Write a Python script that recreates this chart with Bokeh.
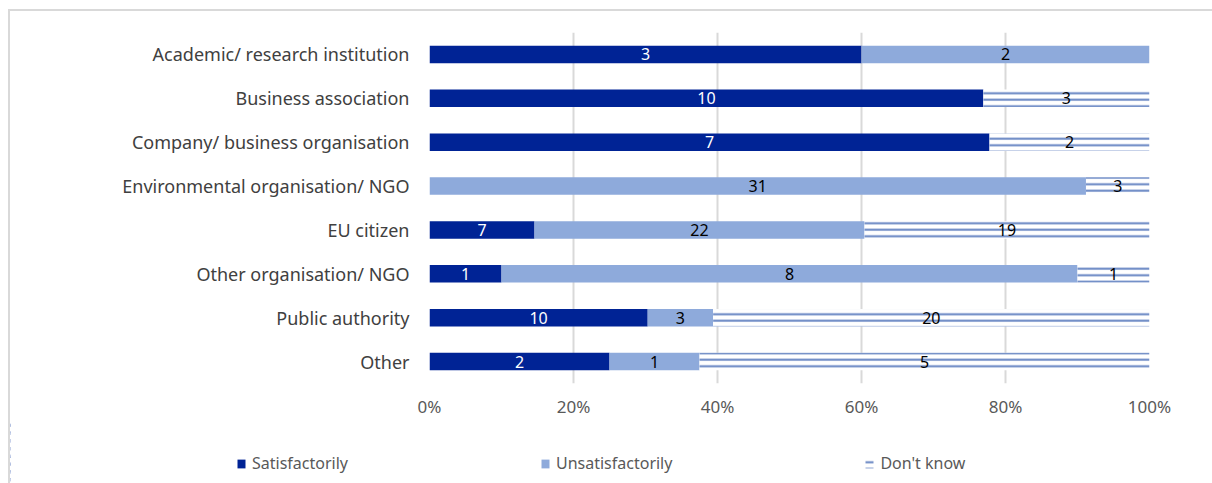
from bokeh.plotting import figure
from bokeh.layouts import column
from bokeh.models import ColumnDataSource, Legend, LegendItem, NumeralTickFormatter, FixedTicker
from bokeh.core.properties import value
from bokeh.embed import file_html
from bokeh.resources import INLINE

categories = ["Academic/ research institution", "Business association", "Company/ business organisation",
              "Environmental organisation/ NGO", "EU citizen", "Other organisation/ NGO",
              "Public authority", "Other"]
satisfactorily = [3, 10, 7, 0, 7, 1, 10, 2]
unsatisfactorily = [2, 0, 0, 31, 22, 8, 3, 1]
dont_know = [0, 3, 2, 3, 19, 1, 20, 5]
series_names = ["Satisfactorily", "Unsatisfactorily", "Don't know"]
x_ticks = [0, 0.2, 0.4, 0.6, 0.8, 1.0]

FONT = "Noto Sans"
DARK = "#002395"
LIGHT = "#8eaadb"
STRIPE = "#6584c2"

totals = [a + b + c for a, b, c in zip(satisfactorily, unsatisfactorily, dont_know)]
s_end = [a / t for a, t in zip(satisfactorily, totals)]
u_end = [(a + b) / t for a, b, t in zip(satisfactorily, unsatisfactorily, totals)]

src = ColumnDataSource(dict(cat=categories, s0=[0] * len(categories), s1=s_end, u1=u_end,
                            d1=[1.0] * len(categories)))

# main chart; canvas origin sits at (10, 11) because of the wrapper margin + border
p = figure(width=1202, height=410, y_range=list(reversed(categories)), x_range=(0, 1),
           output_backend="svg", toolbar_location=None,
           min_border_left=419, min_border_right=63, min_border_top=21, min_border_bottom=38)
p.outline_line_color = None
p.background_fill_color = "white"
p.border_fill_color = "white"

bh = 0.4
styles = [dict(fill_color=DARK, line_color=None),
          dict(fill_color=LIGHT, line_color=None),
          dict(fill_color="white", line_color=None, hatch_pattern="horizontal_line",
               hatch_color=STRIPE, hatch_scale=6.5, hatch_weight=2)]
spans = [("s0", "s1"), ("s1", "u1"), ("u1", "d1")]
for (l, r), st in zip(spans, styles):
    p.hbar(y="cat", left=l, right=r, height=bh, source=src, **st)

def add_labels(vals, lefts, rights, color):
    xs, ys, ts = [], [], []
    for v, l, r, c in zip(vals, lefts, rights, categories):
        if v > 0:
            xs.append((l + r) / 2); ys.append(c); ts.append(str(v))
    s = ColumnDataSource(dict(x=xs, y=ys, t=ts))
    p.text(x="x", y="y", text="t", source=s, text_align="center", text_baseline="middle",
           text_color=color, text_font=value(FONT), text_font_size="16px")

add_labels(satisfactorily, [0] * 8, s_end, "white")
add_labels(unsatisfactorily, s_end, u_end, "black")
add_labels(dont_know, u_end, [1.0] * 8, "black")

p.xaxis.ticker = FixedTicker(ticks=x_ticks)
p.xaxis.formatter = NumeralTickFormatter(format="0%")
for ax in (p.xaxis, p.yaxis):
    ax.axis_line_color = None
    ax.major_tick_line_color = None
    ax.minor_tick_line_color = None
    ax.major_label_text_font = FONT
p.xaxis.major_label_text_color = "#595959"
p.yaxis.major_label_text_color = "#404040"
p.xaxis.major_label_text_font_size = "17px"
p.xaxis.major_label_standoff = 5
p.yaxis.major_label_text_font_size = "18px"
p.yaxis.major_label_standoff = 14

p.xgrid.ticker = FixedTicker(ticks=x_ticks)
p.xgrid.grid_line_color = "#d9d9d9"
p.xgrid.grid_line_width = 2
p.ygrid.grid_line_color = None

# legend strip (its bars sit outside its visible x range; only the legend shows)
pl = figure(width=1202, height=62, output_backend="svg", toolbar_location=None,
            x_axis_location=None, y_axis_location=None, min_border=0,
            x_range=(5, 6), y_range=list(reversed(categories)))
pl.outline_line_color = None
pl.grid.visible = False
pl.border_fill_color = None
pl.background_fill_color = None
try:
    p.frame_align = False
    pl.frame_align = False
except Exception:
    pass
lrs = [pl.hbar(y="cat", left=l, right=r, height=bh, source=src, **st) for (l, r), st in zip(spans, styles)]
legend = Legend(items=[LegendItem(label=n, renderers=[r]) for n, r in zip(series_names, lrs)],
                orientation="horizontal", location=(226, 9), spacing=192,
                glyph_width=10, glyph_height=11, label_standoff=6, label_height=20, padding=0, margin=0,
                border_line_color=None, background_fill_alpha=0,
                label_text_font=FONT, label_text_font_size="16px", label_text_color="#595959")
pl.add_layout(legend, "center")

layout = column(p, pl, margin=(9, 0, 0, 8), spacing=0,
                styles={"border-left": "2px solid #d9d9d9", "border-top": "2px solid #d9d9d9"})

open("out.html", "w").write(file_html(layout, INLINE))
